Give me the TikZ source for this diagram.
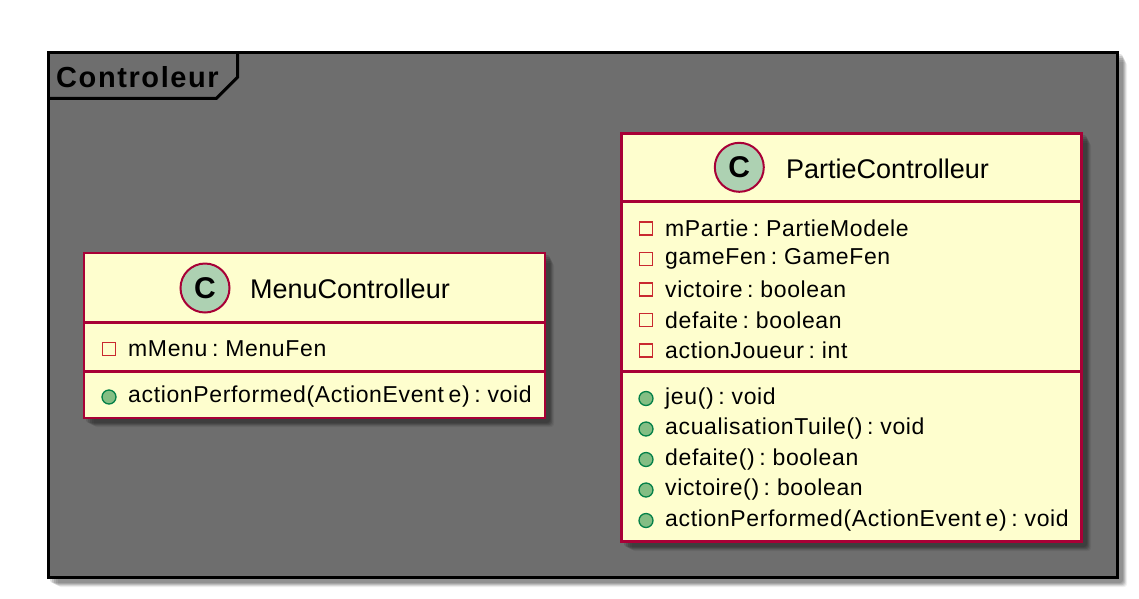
\documentclass[tikz,border=0pt]{standalone}
\usepackage{fontspec}
\setmainfont{Liberation Sans}
\newfontfamily\memberfont[LetterSpace=2.8, WordSpace=0.65]{Liberation Sans}
\newfontfamily\pkgfont[LetterSpace=5.5]{Liberation Sans}
\definecolor{pkgbg}{HTML}{6E6E6E}
\definecolor{classbg}{HTML}{FEFECE}
\definecolor{classbd}{HTML}{A80036}
\definecolor{circbg}{HTML}{ADD1B2}
\definecolor{privbd}{HTML}{C82930}
\definecolor{pubbg}{HTML}{84BE84}
\definecolor{pubbd}{HTML}{038048}
\tikzset{
  classbox/.style={draw=classbd, fill=classbg, line width=2.6pt, inner sep=0pt, rectangle},
  sepline/.style={draw=classbd, line width=2.6pt},
  cicon/.style={circle, draw=classbd, fill=circbg, line width=2pt, minimum size=49pt, inner sep=0pt,
    font=\fontsize{30}{30}\selectfont\bfseries},
  ctitle/.style={anchor=west, inner sep=0pt, font=\fontsize{27}{30}\selectfont},
  member/.style={anchor=west, inner sep=0pt, font=\memberfont\fontsize{23}{26}\selectfont},
  privicon/.style={rectangle, draw=privbd, line width=1.8pt, minimum size=13pt, inner sep=0pt},
  pubicon/.style={circle, draw=pubbd, fill=pubbg, line width=1.3pt, minimum size=14pt, inner sep=0pt},
}
\newcommand{\softshadow}[5]{% x1 y1 x2 y2 colour
  \foreach \d/\o in {2/0.12,4/0.12,6/0.12,8/0.09,10/0.06}{
    \fill[#5, opacity=\o, rounded corners=3pt] (#1+\d,#2+\d) rectangle (#3+\d*0.5,#4+\d*0.5);
  }
}
\begin{document}
\begin{tikzpicture}[x=1pt,y=-1pt]
\useasboundingbox[fill=white] (0,0) rectangle (1139,598);

% package shadow
\softshadow{48}{52}{1122}{582}{black}
% package
\node[draw=black, fill=pkgbg, line width=3pt, minimum width=1069pt, minimum height=525pt, inner sep=0pt]
  (pkg) at (582.8,314.5) {};
\node[anchor=west, inner sep=0pt, font=\pkgfont\fontsize{29}{30}\selectfont\bfseries] (pkgname) at (56,77) {Controleur};
\coordinate (tabA) at (237.7,52);
\coordinate (tabB) at (237.7,77);
\coordinate (tabC) at (216.5,98.3);
\coordinate (tabD) at (48,98.3);
\draw[line width=3pt, line join=miter] (tabA) -- (tabB) -- (tabC) -- (tabD);

% ---------- MenuControlleur ----------
\softshadow{84}{253}{549}{422}{black}
\node[classbox, minimum width=461pt, minimum height=165pt] (menu) at (314.5,335.5) {};
\node[cicon] (menuC) at (205,288) {C};
\node[ctitle] (menuT) at (250,289) {MenuControlleur};
\coordinate (m1l) at (84,322.7); \coordinate (m1r) at (545,322.7);
\coordinate (m2l) at (84,371.7); \coordinate (m2r) at (545,371.7);
\draw[sepline] (m1l) -- (m1r);
\draw[sepline] (m2l) -- (m2r);
\node[privicon] (mi1) at (109,349) {};
\node[member] (ma1) at (128,349) {mMenu : MenuFen};
\node[pubicon] (mi2) at (109,397) {};
\node[member] (mm1) at (128,397) {actionPerformed(ActionEvent e) : void};

% ---------- PartieControlleur ----------
\softshadow{622}{133}{1086}{546}{black}
\node[classbox, minimum width=460pt, minimum height=408.4pt] (partie) at (851.7,337.5) {};
\node[cicon] (partC) at (739.3,167.3) {C};
\node[ctitle] (partT) at (786,168.5) {PartieControlleur};
\coordinate (p1l) at (621.7,201.7); \coordinate (p1r) at (1081.7,201.7);
\coordinate (p2l) at (621.7,371.7); \coordinate (p2r) at (1081.7,371.7);
\draw[sepline] (p1l) -- (p1r);
\draw[sepline] (p2l) -- (p2r);
\node[privicon] (pi1) at (646,228.5) {};
\node[member] (pa1) at (665,228.5) {mPartie : PartieModele};
\node[privicon] (pi2) at (646,259) {};
\node[member] (pa2) at (665,259) {gameFen : GameFen};
\node[privicon] (pi3) at (646,289.5) {};
\node[member] (pa3) at (665,289.5) {victoire : boolean};
\node[privicon] (pi4) at (646,320) {};
\node[member] (pa4) at (665,320) {defaite : boolean};
\node[privicon] (pi5) at (646,350.5) {};
\node[member] (pa5) at (665,350.5) {actionJoueur : int};
\node[pubicon] (pj1) at (646,398.5) {};
\node[member] (pm1) at (665,398.5) {jeu() : void};
\node[pubicon] (pj2) at (646,429) {};
\node[member] (pm2) at (665,429) {acualisationTuile() : void};
\node[pubicon] (pj3) at (646,459.5) {};
\node[member] (pm3) at (665,459.5) {defaite() : boolean};
\node[pubicon] (pj4) at (646,490) {};
\node[member] (pm4) at (665,490) {victoire() : boolean};
\node[pubicon] (pj5) at (646,520.5) {};
\node[member] (pm5) at (665,520.5) {actionPerformed(ActionEvent e) : void};
\end{tikzpicture}
\end{document}
